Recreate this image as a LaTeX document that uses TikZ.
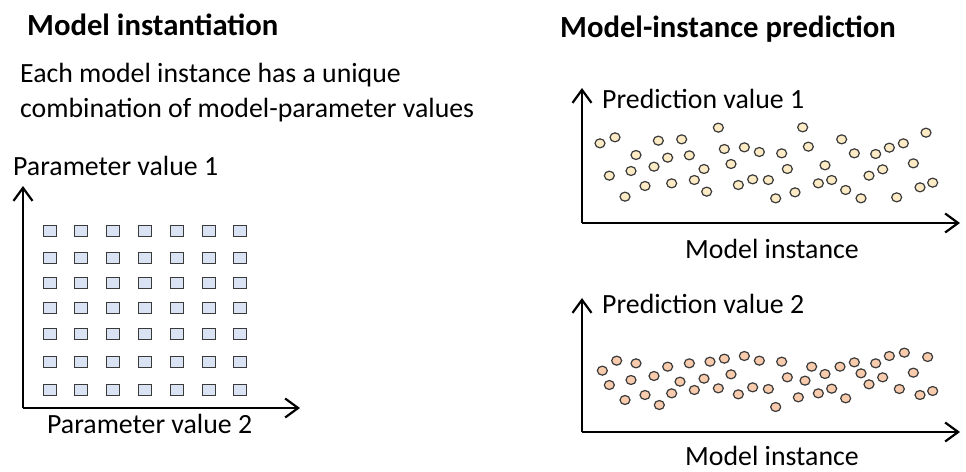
\documentclass[tikz,border=0pt]{standalone}
\usepackage{fontspec}
\setmainfont{Carlito}
\usetikzlibrary{arrows.meta,shapes.geometric}
\definecolor{sqfill}{HTML}{DAE3F3}
\definecolor{edge}{HTML}{3A3A3A}
\definecolor{dotA}{HTML}{FCEBC4}
\definecolor{dotB}{HTML}{F8CBAD}
\tikzset{
  axis/.style={line width=2.2pt, black, -{Straight Barb[length=13pt,width=19pt,line width=2.2pt]}},
  lbl/.style={anchor=base west, inner sep=0pt, font=\fontsize{27.8}{33}\selectfont},
  ttl/.style={anchor=base west, inner sep=0pt, font=\fontsize{30.7}{36}\selectfont\bfseries},
  sq/.style={rectangle, draw=edge, fill=sqfill, line width=1.4pt, minimum width=13pt, minimum height=11.5pt, inner sep=0pt},
  dotstyle/.style={ellipse, draw=edge, line width=1.2pt, minimum width=10pt, minimum height=9pt, inner sep=0pt},
  dota/.style={dotstyle, fill=dotA},
  dotb/.style={dotstyle, fill=dotB}
}
\begin{document}
\begin{tikzpicture}[x=1pt,y=-1pt]
\useasboundingbox (0,0) rectangle (966,471);
% titles and texts
\node[ttl] (t1) at (27,35) {Model instantiation};
\node[ttl] (t2) at (560,37) {Model-instance prediction};
\node[lbl] (e1) at (20,82) {Each model instance has a unique};
\node[lbl] (e2) at (20,117) {combination of model-parameter values};
\node[lbl] (p1) at (13,175) {Parameter value 1};
\node[lbl] (p2) at (47,433) {Parameter value 2};
\node[lbl] (q1) at (602,108) {Prediction value 1};
\node[lbl] (q2) at (602,313) {Prediction value 2};
\node[lbl] (m1) at (685,258) {Model instance};
\node[lbl] (m2) at (685,465) {Model instance};
% axes
\coordinate (LO) at (23,408);
\coordinate (LT) at (23,186);
\coordinate (LR) at (300,408);
\coordinate (AO) at (582,223);
\coordinate (AT) at (582,88);
\coordinate (AR) at (960,223);
\coordinate (BO) at (582,432);
\coordinate (BT) at (582,298);
\coordinate (BR) at (960,432);
\draw[axis] (LO) -- (LT);
\draw[axis] (LO) -- (LR);
\draw[axis] (AO) -- (AT);
\draw[axis] (AO) -- (AR);
\draw[axis] (BO) -- (BT);
\draw[axis] (BO) -- (BR);
% grid of squares
\foreach \c [count=\i] in {50,81,113,145,177,209,240}
  \foreach \r [count=\j] in {231,258,283,308,334,362,390}
    \node[sq] (s\i-\j) at (\c,\r) {};
% top dots
\foreach \zx/\zy [count=\k] in {90/190,135/172,118/287,165/350,198/225,183/273,225/318,252/260,265/182,293/233,305/310,335/178,358/226,373/300,402/267,410/335,445/143,463/207,483/252,505/315,523/202,548/298,568/216,595/300,617/355,635/220,652/267,675/337,698/142,715/200,745/310,765/256,785/300,815/178,827/330,853/220,873/355,897/287,917/222,938/268,958/203,980/352,1000/190,1030/250,1050/322,1068/158,1088/308}
  \node[dota] (a\k) at ({570+\zx/3},{80+\zy/3}) {};
% bottom dots
\foreach \zx/\zy [count=\k] in {97/272,140/242,118/315,165/360,198/250,183/300,225/345,252/288,268/375,293/260,305/340,330/305,358/250,373/330,402/296,420/245,445/325,463/236,483/283,505/343,523/228,548/322,568/242,595/327,617/381,635/245,652/292,685/352,705/302,725/260,745/340,765/282,785/326,810/260,827/355,853/247,873/280,897/313,917/250,938/292,958/228,988/327,1003/218,1030/278,1050/345,1073/231,1088/333}
  \node[dotb] (b\k) at ({570+\zx/3},{280+\zy/3}) {};
\end{tikzpicture}
\end{document}
